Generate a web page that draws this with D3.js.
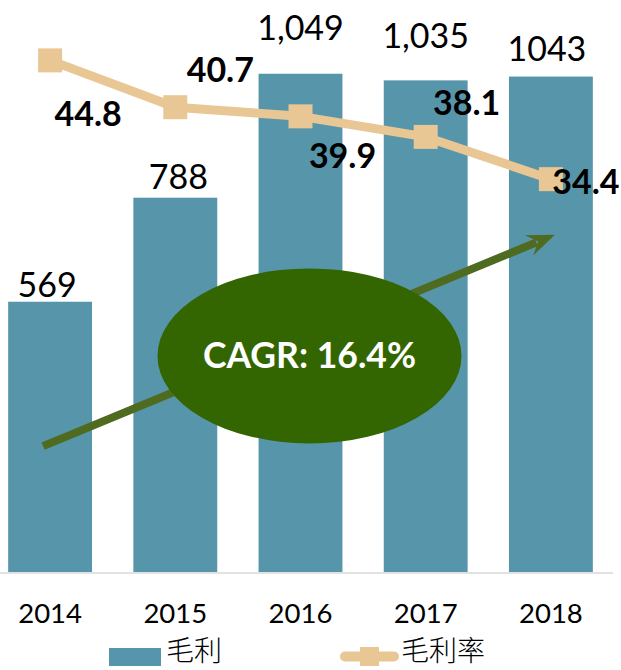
<!DOCTYPE html>
<html>
<head>
<meta charset="utf-8">
<script src="https://cdn.jsdelivr.net/npm/d3@7"></script>
<style>
    body { margin: 0; background: #fff; }
    #chart { width: 621px; height: 670px; }
</style>
</head>
<body>
<div id="chart"></div>
<script>
// data
var years = ["2014", "2015", "2016", "2017", "2018"];
var grossProfit = [569, 788, 1049, 1035, 1043];
var grossProfitLabels = ["569", "788", "1,049", "1,035", "1043"];
var grossMargin = [44.8, 40.7, 39.9, 38.1, 34.4];
var cagrText = "CAGR: 16.4%";
var legendNames = ["毛利", "毛利率"];

// label nudges, like in the original slide
var barLabelDx = [-3, 3, 0, 0, -4];
var barLabelDy = [-5, -9, -34, -32, -16];
var rateLabelDx = [38, 45, 42, 41, 35];
var rateLabelDy = [66, -25, 52, -22, 15];

var barColor = "#5795aa",
    lineColor = "#e8c794",
    ellipseColor = "#336600",
    arrowColor = "#4f6b20";

function drawChart() {
    var width = 621,
        height = 670,
        baseY = 572;

    var svg = d3.select("#chart")
        .append("svg")
        .attr("width", width)
        .attr("height", height);

    var x = d3.scaleBand()
        .domain(years)
        .range([-12.5, 613.5])
        .paddingInner(0.33)
        .paddingOuter(0.165);

    var y = d3.scaleLinear().domain([0, 1200]).range([baseY, 2]);
    var y2 = d3.scaleLinear().domain([0, 50]).range([baseY, 1]);

    var cx = (d) => x(d) + x.bandwidth() / 2;

    // bars
    svg.selectAll(".bar")
        .data(grossProfit)
        .enter()
        .append("rect")
        .attr("class", "bar")
        .attr("x", (d, i) => x(years[i]))
        .attr("y", (d) => y(d))
        .attr("width", x.bandwidth())
        .attr("height", (d) => baseY - y(d))
        .style("fill", barColor);

    // baseline
    svg.append("line")
        .attr("x1", 0).attr("x2", 613)
        .attr("y1", baseY + 1).attr("y2", baseY + 1)
        .attr("style", "stroke:#d9d9d9;stroke-width:1.5");

    // x axis labels
    var xAxis = d3.axisBottom(x).tickSize(0).tickPadding(0);
    var ax = svg.append("g")
        .attr("transform", "translate(0," + baseY + ")")
        .call(xAxis);
    ax.select(".domain").remove();
    ax.selectAll("text")
        .attr("y", 51)
        .attr("dy", null)
        .attr("style", "fill:#000;font-family:Lato;font-size:27.5px");

    // bar value labels
    svg.selectAll(".barLabel")
        .data(grossProfit)
        .enter()
        .append("text")
        .attr("x", (d, i) => cx(years[i]) + barLabelDx[i])
        .attr("y", (d, i) => y(d) + barLabelDy[i])
        .attr("text-anchor", "middle")
        .attr("style", "fill:#000;font-family:Lato;font-size:34px")
        .text((d, i) => grossProfitLabels[i]);

    // margin line
    var line = d3.line()
        .x((d, i) => cx(years[i]))
        .y((d) => y2(d));

    svg.append("path")
        .datum(grossMargin)
        .attr("d", line)
        .attr("style", "fill:none;stroke:" + lineColor + ";stroke-width:9;stroke-linejoin:round");

    var m = 24;
    svg.selectAll(".marker")
        .data(grossMargin)
        .enter()
        .append("rect")
        .attr("x", (d, i) => cx(years[i]) - m / 2)
        .attr("y", (d) => y2(d) - m / 2)
        .attr("width", m)
        .attr("height", m)
        .style("fill", lineColor);

    // CAGR arrow
    var tipX = cx("2018") + 4, tipY = y(710);
    var startX = cx("2014") - 7, startY = y(265);
    var ang = Math.atan2(tipY - startY, tipX - startX);
    var headLen = 26, headW = 11;
    var bx = tipX - headLen * Math.cos(ang), by = tipY - headLen * Math.sin(ang);

    svg.append("line")
        .attr("x1", startX).attr("y1", startY)
        .attr("x2", bx + 6 * Math.cos(ang)).attr("y2", by + 6 * Math.sin(ang))
        .attr("style", "stroke:" + arrowColor + ";stroke-width:8");

    var px = -Math.sin(ang), py = Math.cos(ang);
    var notch = 8;
    svg.append("polygon")
        .attr("points", [
            [tipX, tipY],
            [bx + px * headW - Math.cos(ang) * 2, by + py * headW - Math.sin(ang) * 2],
            [bx + notch * Math.cos(ang), by + notch * Math.sin(ang)],
            [bx - px * headW - Math.cos(ang) * 2, by - py * headW - Math.sin(ang) * 2]
        ].map((p) => p.join(",")).join(" "))
        .style("fill", arrowColor);

    // CAGR ellipse
    var ex = cx("2016") + 9, ey = y(455);
    svg.append("ellipse")
        .attr("cx", ex).attr("cy", ey)
        .attr("rx", 152).attr("ry", 87.5)
        .style("fill", ellipseColor);

    svg.append("text")
        .attr("x", ex)
        .attr("y", ey + 12)
        .attr("text-anchor", "middle")
        .attr("style", "fill:#fff;font-family:Lato;font-weight:bold;font-size:35.5px")
        .text(cagrText);

    // margin labels
    svg.selectAll(".rateLabel")
        .data(grossMargin)
        .enter()
        .append("text")
        .attr("x", (d, i) => cx(years[i]) + rateLabelDx[i])
        .attr("y", (d, i) => y2(d) + rateLabelDy[i])
        .attr("text-anchor", "middle")
        .attr("style", "fill:#000;font-family:Lato;font-weight:bold;font-size:34px")
        .text((d) => d3.format(".1f")(d));

    // legend
    var legend = svg.append("g");
    legend.append("rect")
        .attr("x", 109).attr("y", 648)
        .attr("width", 52).attr("height", 18)
        .style("fill", barColor);
    legend.append("text")
        .attr("x", 166).attr("y", 661)
        .attr("style", "fill:#000;font-family:'Noto Sans CJK SC';font-weight:300;font-size:28px")
        .text(legendNames[0]);

    legend.append("line")
        .attr("x1", 345).attr("x2", 394)
        .attr("y1", 656.5).attr("y2", 656.5)
        .attr("style", "stroke:" + lineColor + ";stroke-width:10;stroke-linecap:round");
    legend.append("rect")
        .attr("x", 360).attr("y", 647)
        .attr("width", 19).attr("height", 19)
        .style("fill", lineColor);
    legend.append("text")
        .attr("x", 401).attr("y", 661)
        .attr("style", "fill:#000;font-family:'Noto Sans CJK SC';font-weight:300;font-size:28px")
        .text(legendNames[1]);
}

drawChart();
</script>
</body>
</html>
